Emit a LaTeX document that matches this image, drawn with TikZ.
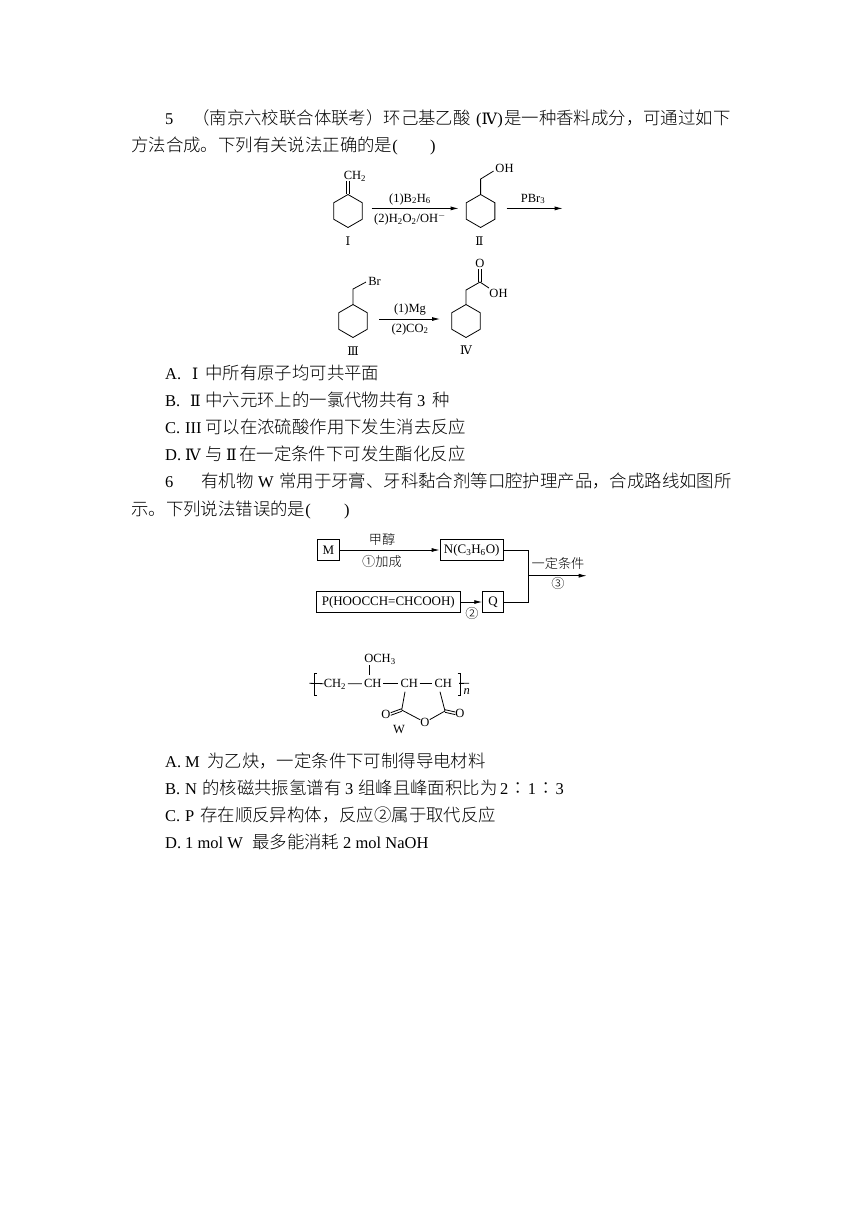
\documentclass[tikz,border=0pt]{standalone}
\usepackage{fontspec}
\setmainfont{Liberation Serif}
\newfontfamily\cjk[Scale=1.055]{Noto Sans CJK SC Light}
\newfontfamily\romn[Scale=0.95]{DejaVu Serif}
\usetikzlibrary{arrows.meta}
\usetikzlibrary{shapes.geometric}
\newcommand{\zh}[1]{{\cjk #1}}
\newcommand{\rn}[1]{{\romn #1}}
\newcommand{\ssub}[1]{\textsubscript{#1}}
\tikzset{
    line/.style={anchor=base west, inner sep=0pt, font=\fontsize{16.5}{20}\selectfont},
    chem/.style={inner sep=0pt, font=\fontsize{12.5}{14}\selectfont},
    bond/.style={line width=0.8pt},
    gapped/.style={bond, shorten <=1.5pt, shorten >=2pt},
    rxn/.style={line width=0.8pt, -{Latex[length=8pt,width=4pt]}},
    ring/.style={draw, line width=0.8pt, regular polygon, regular polygon sides=6, shape border rotate=30, minimum size=33pt, inner sep=0pt},
    stepbox/.style={draw, line width=0.9pt, inner sep=0pt, minimum height=21pt, font=\fontsize{13}{15}\selectfont}
}
\begin{document}
\begin{tikzpicture}[x=1pt,y=-1pt]
    \useasboundingbox (0,0) rectangle (860,1216);
    \fill[white] (0,0) rectangle (860,1216);
    %Question 5
    \node[line] (qFa) at (165,124) {5};
    \node[line] (qFb) at (192,124) {\zh{（南京六校联合体联考）环己基乙酸}};
    \node[line] (qFc) at (476,124) {(\rn{Ⅳ})};
    \node[line] (qFd) at (504,124) {\zh{是一种香料成分，可通过如下}};
    \node[line] (qFe) at (131,151) {\zh{方法合成。下列有关说法正确的是}(};
    \node[line] (qFf) at (430,151) {)};
    %Scheme
    \node[ring] (ringA) at (348,211) {};
    \node[ring] (ringB) at (480.6,211) {};
    \node[ring] (ringC) at (353,321) {};
    \node[ring] (ringD) at (466,321) {};
    \node[chem] (chA) at (355,176) {CH\ssub{2}};
    \node[chem] (ohB) at (504.5,168) {OH};
    \node[chem] (brC) at (374.5,281) {Br};
    \node[chem] (oD) at (480,263) {O};
    \node[chem] (ohD) at (498.5,293) {OH};
    \node[chem] (nameA) at (348,241) {\rn{Ⅰ}};
    \node[chem] (nameB) at (479.5,241) {\rn{Ⅱ}};
    \node[chem] (nameC) at (353,351) {\rn{Ⅲ}};
    \node[chem] (nameD) at (466,350) {\rn{Ⅳ}};
    \draw[bond] ([xshift=-1.4pt]ringA.north) -- ++(0,-13);
    \draw[bond] ([xshift=1.4pt]ringA.north) -- ++(0,-13);
    \draw[bond] (ringB.north) -- ++(0,-15) -- ++(13,-8);
    \draw[bond] (ringC.north) -- ++(0,-15) -- ++(13,-7);
    \draw[bond] (ringD.north) -- ++(0,-14) coordinate (cD) -- ++(14,-8) coordinate (coD);
    \draw[bond] ([xshift=-1.4pt]coD) -- ++(0,-13);
    \draw[bond] ([xshift=1.4pt]coD) -- ++(0,-13);
    \draw[bond] (coD) -- ++(9,6);
    \coordinate (aAs) at (371.5,208.4);
    \coordinate (aAe) at (458.6,208.4);
    \coordinate (aBs) at (506.6,208.4);
    \coordinate (aBe) at (562.7,208.4);
    \coordinate (aCs) at (379,319);
    \coordinate (aCe) at (440,319);
    \draw[rxn] (aAs) -- (aAe);
    \draw[rxn] (aBs) -- (aBe);
    \draw[rxn] (aCs) -- (aCe);
    \node[chem] (labAa) at (410,199) {(1)B\ssub{2}H\ssub{6}};
    \node[chem] (labAb) at (410,219) {(2)H\ssub{2}O\ssub{2}/OH\textsuperscript{$-$}};
    \node[chem] (labB) at (533,199) {PBr\ssub{3}};
    \node[chem] (labCa) at (410,310) {(1)Mg};
    \node[chem] (labCb) at (410,329) {(2)CO\ssub{2}};
    %Options 5
    \node[line] (optAa) at (165,379) {A.};
    \node[line] (optAb) at (192,379) {\rn{Ⅰ}};
    \node[line] (optAc) at (205,379) {\zh{中所有原子均可共平面}};
    \node[line] (optBa) at (165,406) {B.};
    \node[line] (optBb) at (190,406) {\rn{Ⅱ}};
    \node[line] (optBc) at (205,406) {\zh{中六元环上的一氯代物共有}};
    \node[line] (optBd) at (417,406) {3};
    \node[line] (optBe) at (432,406) {\zh{种}};
    \node[line] (optCa) at (165,433) {C.};
    \node[line] (optCb) at (185,433) {III};
    \node[line] (optCc) at (205,433) {\zh{可以在浓硫酸作用下发生消去反应}};
    \node[line] (optDa) at (165,460) {D.};
    \node[line] (optDb) at (185,460) {\rn{Ⅳ}};
    \node[line] (optDc) at (205,460) {\zh{与}};
    \node[line] (optDd) at (226,460) {\rn{Ⅱ}};
    \node[line] (optDe) at (239,460) {\zh{在一定条件下可发生酯化反应}};
    %Question 6
    \node[line] (qSa) at (165,487) {6};
    \node[line] (qSb) at (201,487) {\zh{有机物}};
    \node[line] (qSc) at (258,487) {W};
    \node[line] (qSd) at (279,487) {\zh{常用于牙膏、牙科黏合剂等口腔护理产品，合成路线如图所}};
    \node[line] (qSe) at (131,515) {\zh{示。下列说法错误的是}(};
    \node[line] (qSf) at (344,515) {)};
    %Route
    \node[stepbox, minimum width=21.6pt] (boxM) at (328.5,550) {M};
    \node[stepbox, minimum width=63.3pt] (boxN) at (471.7,550) {N(C\ssub{3}H\ssub{6}O)};
    \node[stepbox, minimum width=143.3pt] (boxP) at (388.3,602) {P(HOOCCH=CHCOOH)};
    \node[stepbox, minimum width=20.6pt] (boxQ) at (493,602) {Q};
    \draw[rxn] (boxM) -- (boxN);
    \draw[rxn] (boxP) -- (boxQ);
    \coordinate (joinA) at (528.3,575.7);
    \coordinate (endA) at (586.7,575.7);
    \draw[bond] (boxN) -| (joinA);
    \draw[bond] (boxQ) -| (joinA);
    \draw[rxn] (joinA) -- (endA);
    \node[chem] (labMa) at (382,539) {\zh{甲醇}};
    \node[chem] (labMb) at (382,561) {\zh{①加成}};
    \node[chem] (labQ) at (472,613.5) {\zh{②}};
    \node[chem] (labEa) at (558,563) {\zh{一定条件}};
    \node[chem] (labEb) at (558,583.3) {\zh{③}};
    %Polymer W
    \node[chem] (chTwo) at (335,684) {CH\ssub{2}};
    \node[chem] (chU) at (372.7,683.5) {CH};
    \node[chem] (chV) at (409.3,683.5) {CH};
    \node[chem] (chX) at (443.3,683.5) {CH};
    \node[chem] (ome) at (380,659) {OCH\ssub{3}};
    \node[chem] (oL) at (386,714) {O};
    \node[chem] (oM) at (425,722.3) {O};
    \node[chem] (oR) at (460,713.3) {O};
    \node[chem] (nameW) at (399,729.3) {W};
    \node[chem, font=\fontsize{12.5}{14}\selectfont\itshape] (idxN) at (466.7,691.7) {n};
    \coordinate (cL) at (401.7,710);
    \coordinate (cR) at (445,711);
    \draw[gapped] (chTwo) -- (chU);
    \draw[gapped] (chU) -- (chV);
    \draw[gapped] (chV) -- (chX);
    \draw[bond] (369,675) -- (369,665);
    \draw[bond] (405,691.7) -- (cL) -- (oM);
    \draw[bond] (oM) -- (cR) -- (440,691.7);
    \draw[bond] ([yshift=1.3pt]cL) -- ([yshift=1.3pt]oL.east);
    \draw[bond] ([yshift=-1.3pt]cL) -- ([yshift=-1.3pt]oL.east);
    \draw[bond] ([yshift=1.3pt]cR) -- ([yshift=1.3pt]oR.west);
    \draw[bond] ([yshift=-1.3pt]cR) -- ([yshift=-1.3pt]oR.west);
    \draw[bond] (316.5,673.3) -- (314,673.3) -- (314,695) -- (316.5,695);
    \draw[bond] (309.3,683.3) -- (chTwo);
    \draw[bond] (457.5,673.3) -- (460,673.3) -- (460,695) -- (457.5,695);
    \draw[bond, shorten <=7pt] (chX) -- (469,683.3);
    %Options 6
    \node[line] (optEa) at (165,767) {A.};
    \node[line] (optEb) at (185,767) {M};
    \node[line] (optEc) at (207,767) {\zh{为乙炔，一定条件下可制得导电材料}};
    \node[line] (optFa) at (165,794) {B.};
    \node[line] (optFb) at (185,794) {N};
    \node[line] (optFc) at (202,794) {\zh{的核磁共振氢谱有}};
    \node[line] (optFd) at (345,794) {3};
    \node[line] (optFe) at (358,794) {\zh{组峰且峰面积比为}};
    \node[line] (optFf) at (500,794) {2\kern1pt\zh{∶}\kern1pt1\kern1pt\zh{∶}\kern1pt3};
    \node[line] (optGa) at (165,821) {C.};
    \node[line] (optGb) at (185,821) {P};
    \node[line] (optGc) at (200,821) {\zh{存在顺反异构体，反应②属于取代反应}};
    \node[line] (optHa) at (165,848) {D.};
    \node[line] (optHb) at (185,848) {1 mol W};
    \node[line] (optHc) at (252,848) {\zh{最多能消耗}};
    \node[line] (optHd) at (343,848) {2 mol NaOH};
\end{tikzpicture}
\end{document}
